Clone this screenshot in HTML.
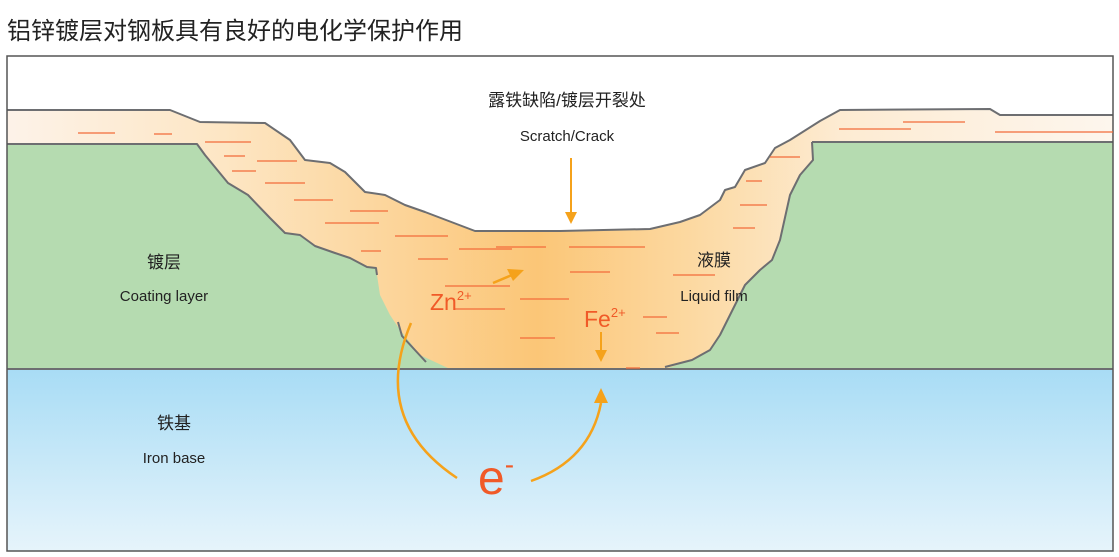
<!DOCTYPE html>
<html><head><meta charset="utf-8"><style>
html,body{margin:0;padding:0;background:#fff;width:1119px;height:557px;overflow:hidden}
svg{display:block}
text{font-family:"Liberation Sans","Noto Sans CJK SC",sans-serif}
</style></head><body>
<svg width="1119" height="557" viewBox="0 0 1119 557" xmlns="http://www.w3.org/2000/svg">
<defs>
<linearGradient id="film" x1="0" y1="0" x2="1119" y2="0" gradientUnits="userSpaceOnUse">
<stop offset="0" stop-color="#fdf3ea"/>
<stop offset="0.2" stop-color="#fde6c4"/>
<stop offset="0.48" stop-color="#fbc677"/>
<stop offset="0.62" stop-color="#fcd9a2"/>
<stop offset="0.75" stop-color="#fdebd2"/>
<stop offset="1" stop-color="#fdf6ee"/>
</linearGradient>
<linearGradient id="iron" x1="0" y1="369" x2="0" y2="551" gradientUnits="userSpaceOnUse">
<stop offset="0" stop-color="#a8dcf5"/>
<stop offset="1" stop-color="#e6f4fb"/>
</linearGradient>
</defs>
<text x="7" y="39" font-size="24" fill="#222">铝锌镀层对钢板具有良好的电化学保护作用</text>
<path d="M7,110 L170,110 L200,122 L265,123 L290,140 L305,160 L330,163 L345,172 L365,192 L385,195 L405,205 L425,212 L475,231 L560,231 L650,229 L680,222 L700,215 L720,200 L725,190 L735,187 L745,170 L765,163 L775,148 L790,140 L820,121 L840,110 L990,109 L1000,115 L1113,115 L1113,369 L7,369 Z" fill="url(#film)"/>
<path d="M7,144 L197,144 L205,155 L228,183 L248,195 L270,218 L285,233 L300,235 L315,246 L335,253 L350,258 L367,267 L376,268 L377,275 L380,295 L390,315 L400,330 L420,355 L450,369 L7,369 Z" fill="#b5dbb0"/>
<path d="M812,142 L1113,142 L1113,369 L665,369 L692,360 L710,350 L720,335 L735,305 L745,285 L760,270 L772,260 L780,240 L790,195 L800,175 L813,160 Z" fill="#b5dbb0"/>
<rect x="7" y="369" width="1106" height="182" fill="url(#iron)"/>
<g fill="none" stroke="#6d6e71" stroke-width="2" stroke-linejoin="round">
<path d="M7,110 L170,110 L200,122 L265,123 L290,140 L305,160 L330,163 L345,172 L365,192 L385,195 L405,205 L425,212 L475,231 L560,231 L650,229 L680,222 L700,215 L720,200 L725,190 L735,187 L745,170 L765,163 L775,148 L790,140 L820,121 L840,110 L990,109 L1000,115 L1113,115"/>
<path d="M7,144 L197,144 L205,155 L228,183 L248,195 L270,218 L285,233 L300,235 L315,246 L335,253 L350,258 L367,267 L376,268 L377,275"/>
<path d="M398,322 L402,336 L426,362"/>
<path d="M812,142 L1113,142 M812,142 L813,160 L800,175 L790,195 L780,240 L772,260 L760,270 L745,285 L735,305 L720,335 L710,350 L692,360 L665,367"/>
<path d="M7,369 L1113,369"/>
</g>
<rect x="7" y="56" width="1106" height="495" fill="none" stroke="#555" stroke-width="1.5"/>
<g stroke="#f26b3a" stroke-width="1.3">
<path d="M78,133H115 M154,134H172 M205,142H251 M224,156H245 M257,161H297 M232,171H256 M265,183H305 M294,200H333 M350,211H388 M325,223H379 M395,236H448 M361,251H381 M418,259H448 M459,249H512 M445,286H510 M455,309H505 M520,299H569 M520,338H555 M496,247H546 M569,247H645 M570,272H610 M643,317H667 M656,333H679 M626,368H640 M673,275H715 M733,228H755 M740,205H767 M746,181H762 M770,157H800 M839,129H911 M903,122H965 M995,132H1113"/>
</g>
<g fill="#f5a21b" stroke="#f5a21b">
<path d="M571,158V212" stroke-width="2" fill="none"/><path d="M565,212 L577,212 L571,224 Z" stroke="none"/>
<path d="M601,332V350" stroke-width="2" fill="none"/><path d="M595,350 L607,350 L601,362 Z" stroke="none"/>
<path d="M493,283 L512,275" stroke-width="2.5" fill="none"/><path d="M507,269 L524,270 L513,281 Z" stroke="none"/>
<path d="M411,323 Q370,420 457,478" stroke-width="2.5" fill="none"/>
<path d="M531,481 Q590,460 601,403" stroke-width="2.5" fill="none"/><path d="M594,403 L608,403 L601,388 Z" stroke="none"/>
</g>
<g font-size="15" fill="#222" text-anchor="middle">
<text x="567" y="106" font-size="17">露铁缺陷/镀层开裂处</text>
<text x="567" y="141">Scratch/Crack</text>
<text x="164" y="268" font-size="17">镀层</text>
<text x="164" y="301">Coating layer</text>
<text x="714" y="266" font-size="17">液膜</text>
<text x="714" y="301">Liquid film</text>
<text x="174" y="429" font-size="17">铁基</text>
<text x="174" y="463">Iron base</text>
</g>
<g fill="#f05a28">
<text x="430" y="310" font-size="23">Zn<tspan font-size="13" dy="-10">2+</tspan></text>
<text x="584" y="327" font-size="23">Fe<tspan font-size="13" dy="-10">2+</tspan></text>
<text x="478" y="494" font-size="48">e<tspan font-size="28" dy="-20">-</tspan></text>
</g>
</svg>
</body></html>
